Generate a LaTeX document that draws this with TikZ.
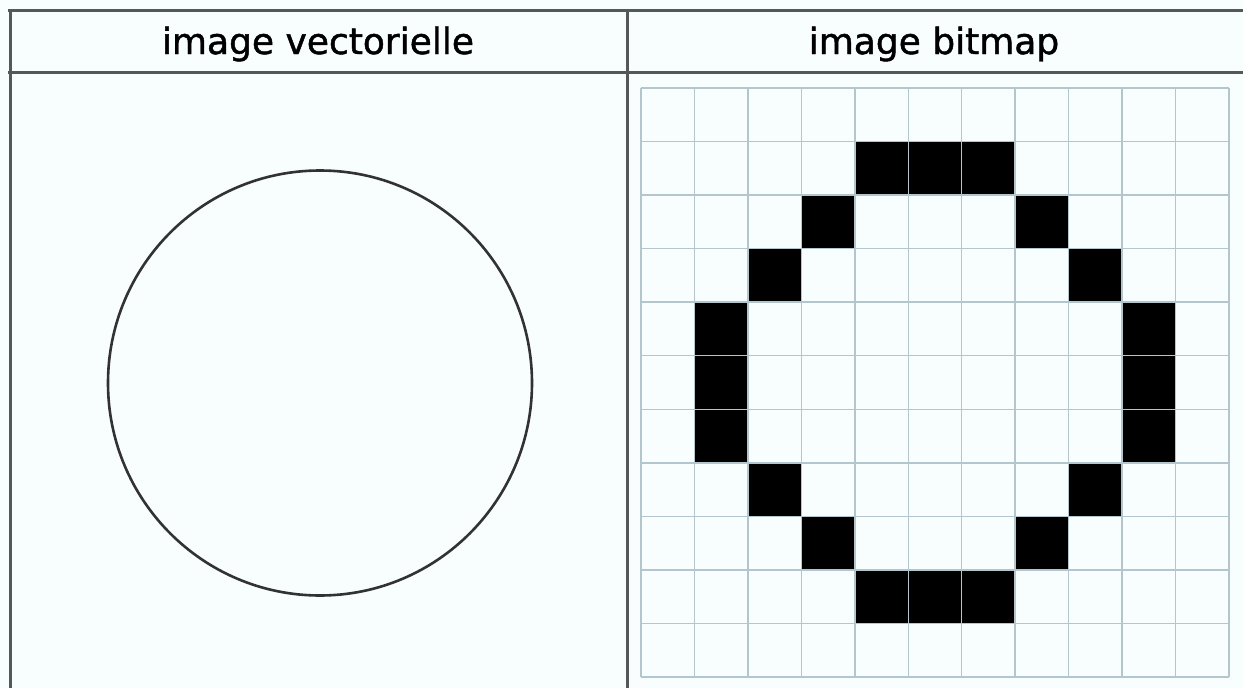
\documentclass[tikz,border=0pt]{standalone}
\usepackage{fontspec}
\setmainfont{DejaVu Sans}
\newfontfamily\hfont[FakeBold=1.3]{DejaVu Sans}
\definecolor{bgc}{RGB}{248,253,254}
\definecolor{framec}{RGB}{85,88,90}
\definecolor{gridc}{RGB}{180,198,205}
\definecolor{circc}{RGB}{50,50,50}
\begin{document}
\begin{tikzpicture}[x=1pt,y=-1pt,
  frameline/.style={draw=framec,line width=3pt},
  gridline/.style={draw=gridc,line width=1.4pt},
  pixel/.style={fill=black},
  headtext/.style={font=\hfont\fontsize{36}{40}\selectfont,inner sep=0pt,anchor=base}]
\useasboundingbox (0,0) rectangle (1243,688);
\fill[bgc] (0,0) rectangle (1243,688);
% pixels
\def\cw{53.4545}
\def\ch{53.545}
\foreach \c/\r in {4/1,5/1,6/1,3/2,7/2,2/3,8/3,1/4,9/4,1/5,9/5,1/6,9/6,2/7,8/7,3/8,7/8,4/9,5/9,6/9}{
  \fill[pixel] ({641+\c*\cw},{88+\r*\ch}) rectangle ({641+(\c+1)*\cw},{88+(\r+1)*\ch});
}
% grid
\foreach \i in {0,...,11}{
  \draw[gridline] ({641+\i*\cw},88) -- ({641+\i*\cw},677);
  \draw[gridline] (641,{88+\i*\ch}) -- (1229,{88+\i*\ch});
}
% circle
\draw[circc,line width=2.6pt] (320,383) ellipse [x radius=212,y radius=212.5];
% frame
\draw[frameline] (8,10) -- (1243,10);
\draw[frameline] (8,72) -- (1243,72);
\draw[frameline] (10,10) -- (10,688);
\draw[frameline] (627,10) -- (627,688);
% headers
\node[headtext] (hv) at (318,54) {image vectorielle};
\node[headtext] (hb) at (934,54) {image bitmap};
\end{tikzpicture}
\end{document}
